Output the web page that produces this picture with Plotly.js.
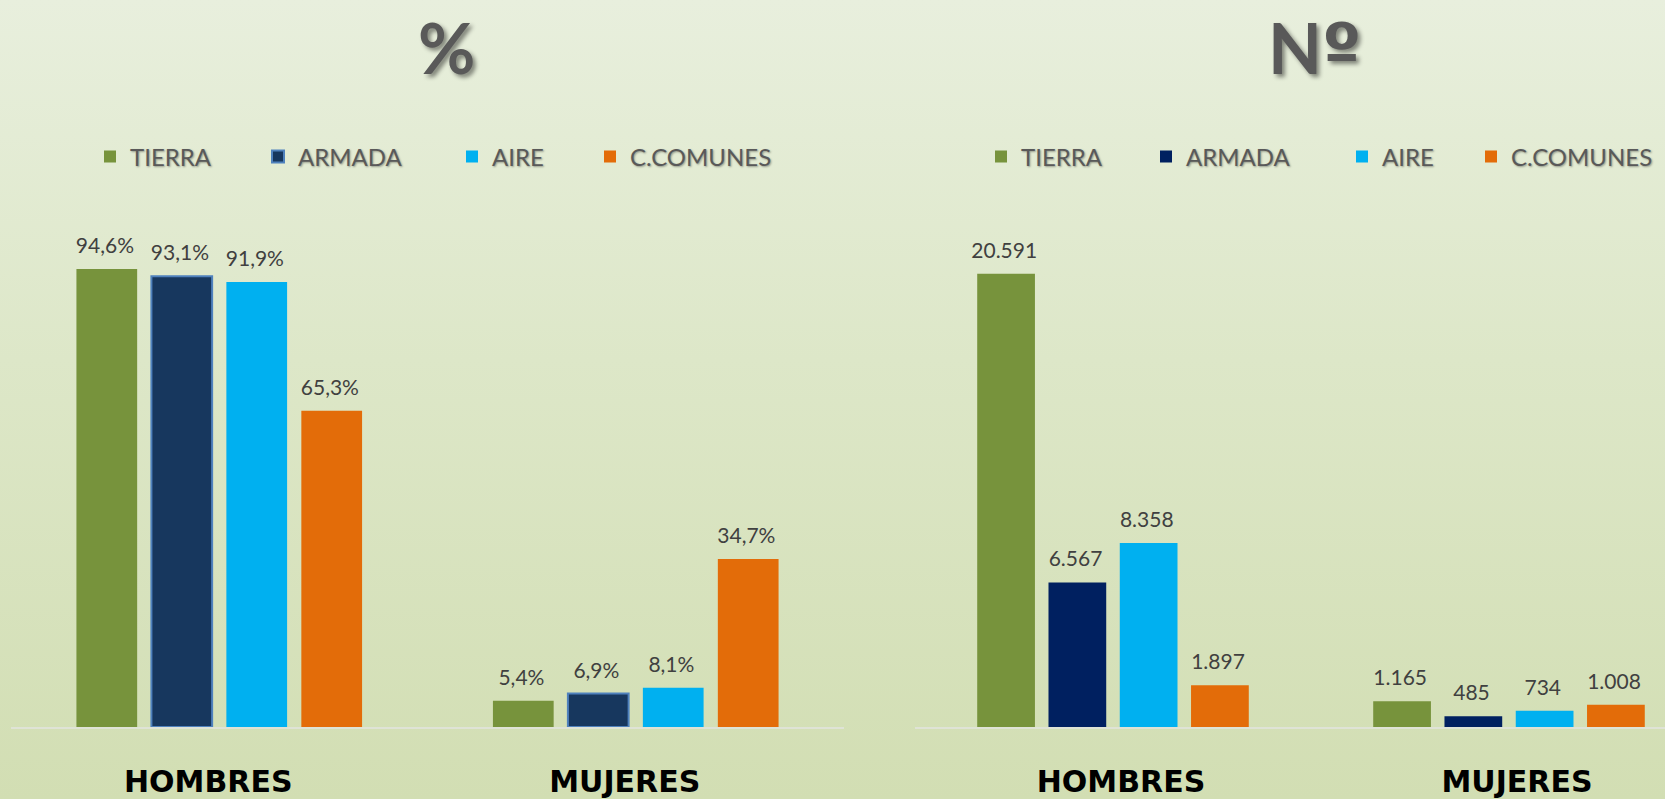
<!DOCTYPE html>
<html>
<head>
<meta charset="utf-8">
<script src="https://cdn.plot.ly/plotly-3.0.1.min.js"></script>
<style>
  html, body { margin: 0; padding: 0; }
  body { width: 1665px; height: 799px; background: linear-gradient(to bottom, #e8efdd 0%, #dde7c8 45%, #d2deb3 100%); }
  #chart { width: 1665px; height: 799px; }
</style>
</head>
<body>
<div id="chart"></div>
<script>
// ---- data ----
const categories = ['HOMBRES', 'MUJERES'];
const seriesNames = ['TIERRA', 'ARMADA', 'AIRE', 'C.COMUNES'];
const pctTierra = [94.6, 5.4];
const pctArmada = [93.1, 6.9];
const pctAire = [91.9, 8.1];
const pctComunes = [65.3, 34.7];
const numTierra = [20591, 1165];
const numArmada = [6567, 485];
const numAire = [8358, 734];
const numComunes = [1897, 1008];
const leftTitle = '%';
const rightTitle = 'N<span style="font-family:\'DejaVu Sans\', sans-serif">º</span>';

// ---- styles ----
const leftColors = ['#77933C', '#17375E', '#00B0F0', '#E36C09'];
const rightColors = ['#77933C', '#002060', '#00B0F0', '#E36C09'];
const leftLegendWidths = [123, 149, 93, 150];
const rightLegendWidths = [120, 151, 84, 140];
const labelFont = {family: 'Lato, Carlito, sans-serif', size: 21, color: '#404040'};
// invisible hair space in a large font: lifts the outside label a little off the bar
const liftPad = '<span style="font-size:60px">\u200A</span>';

const pctSeries = [pctTierra, pctArmada, pctAire, pctComunes];
const numSeries = [numTierra, numArmada, numAire, numComunes];

const traces = [];
pctSeries.forEach((vals, i) => {
  traces.push({
    type: 'bar', x: categories, y: vals, name: seriesNames[i],
    xaxis: 'x', yaxis: 'y', legend: 'legend', legendwidth: leftLegendWidths[i],
    marker: {color: leftColors[i], line: {color: i === 1 ? '#4F81BD' : leftColors[i], width: i === 1 ? 2 : 0}},
    texttemplate: '%{y:.1f}%' + liftPad, textposition: 'outside', textfont: labelFont,
    constraintext: 'none', cliponaxis: false, hoverinfo: 'skip'
  });
});
numSeries.forEach((vals, i) => {
  traces.push({
    type: 'bar', x: categories, y: vals, name: seriesNames[i],
    xaxis: 'x2', yaxis: 'y2', legend: 'legend2', legendwidth: rightLegendWidths[i],
    marker: {color: rightColors[i]},
    texttemplate: '%{y:,}' + liftPad, textposition: 'outside', textfont: labelFont,
    constraintext: 'none', cliponaxis: false, hoverinfo: 'skip'
  });
});

const W = 1665, H = 799;
const yBottom = (H - 727) / H, yTop = (H - 220) / H;
const xAxisCommon = {
  type: 'category', showgrid: false, zeroline: false,
  showline: true, linecolor: '#dfe3d6', linewidth: 2,
  ticks: '', ticklabelstandoff: 27,
  tickfont: {family: 'DejaVu Sans, Liberation Sans, sans-serif', size: 30, color: '#000000', weight: 'bold'},
  fixedrange: true, automargin: false
};
const yAxisCommon = {visible: false, showgrid: false, zeroline: false, fixedrange: true};
const legendFont = {family: 'Lato, Carlito, sans-serif', size: 24, color: '#595959', shadow: '1px 1px 2px rgba(0,0,0,0.35)'};
const titleFont = {family: 'Lato, Carlito, sans-serif', size: 70, color: '#595959', weight: 'bold', shadow: '3px 3px 4px rgba(0,0,0,0.45)'};

const layout = {
  width: W, height: H,
  paper_bgcolor: 'rgba(0,0,0,0)', plot_bgcolor: 'rgba(0,0,0,0)',
  margin: {l: 0, r: 0, t: 0, b: 0, autoexpand: false},
  separators: ',.',
  barmode: 'group', bargap: 0.28, bargroupgap: 0.19,
  showlegend: true,
  xaxis: Object.assign({}, xAxisCommon, {domain: [11 / W, 844 / W], range: [-0.5, 1.5], anchor: 'y', ticklabelshift: -11}),
  yaxis: Object.assign({}, yAxisCommon, {domain: [yBottom, yTop], range: [0, 104.7], anchor: 'x'}),
  xaxis2: Object.assign({}, xAxisCommon, {domain: [915 / W, 1], range: [-0.5, 1.394], anchor: 'y2', ticklabelshift: 8}),
  yaxis2: Object.assign({}, yAxisCommon, {domain: [yBottom, yTop], range: [0, 23030], anchor: 'x2'}),
  legend: {orientation: 'h', x: 90 / W, xanchor: 'left', y: (H - 157) / H, yanchor: 'middle',
           font: legendFont, bgcolor: 'rgba(0,0,0,0)'},
  legend2: {orientation: 'h', x: 981 / W, xanchor: 'left', y: (H - 157) / H, yanchor: 'middle',
            font: legendFont, bgcolor: 'rgba(0,0,0,0)'},
  annotations: [
    {text: leftTitle, xref: 'paper', yref: 'paper', x: 446 / W, y: (H - 47) / H, xanchor: 'center', yanchor: 'middle', showarrow: false, font: titleFont},
    {text: rightTitle, xref: 'paper', yref: 'paper', x: 1314 / W, y: (H - 48) / H, xanchor: 'center', yanchor: 'middle', showarrow: false, font: titleFont}
  ]
};

Plotly.newPlot('chart', traces, layout, {displayModeBar: false, staticPlot: true});
</script>
</body>
</html>
